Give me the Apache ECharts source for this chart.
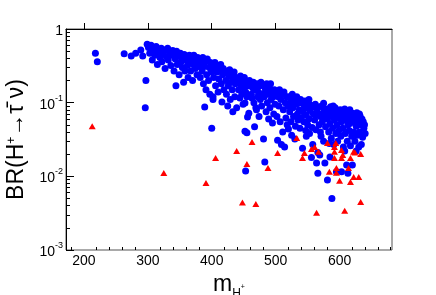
<!DOCTYPE html>
<html><head><meta charset="utf-8">
<script src="https://cdn.jsdelivr.net/npm/echarts@6/dist/echarts.min.js"></script>
<style>html,body{margin:0;padding:0;background:#fff}#c{width:436px;height:295px}</style>
</head><body><div id="c"></div>
<script>
// x tick labels and minor tick positions (GeV)
const xTickLabels = [200, 300, 400, 500, 600];
const xMinorTicks = [180, 220, 240, 260, 280, 320, 340, 360, 380, 420, 440, 460, 480, 520, 540, 560, 580, 620, 640, 660, 680];
// y decade ticks and minor ticks
const yTickLabels = ['10^-3', '10^-2', '10^-1', '1'];
const yMinorTicks = [0.002,0.003,0.004,0.005,0.006,0.007,0.008,0.009,0.02,0.03,0.04,0.05,0.06,0.07,0.08,0.09,0.2,0.3,0.4,0.5,0.6,0.7,0.8,0.9];

// blue points: [m_H+, BR]
const bluePoints = [
[218,0.47],[221,0.36],[263,0.46],[274,0.43],[281,0.47],[289,0.52],[292,0.43],[299,0.62],[297,0.2],[296,0.085],
[301,0.56],[303,0.47],[305,0.6],[307,0.38],[309,0.52],[311,0.44],[313,0.58],[315,0.33],[317,0.49],[319,0.41],
[321,0.55],[322,0.36],[324,0.47],[326,0.52],[327,0.29],[329,0.42],[331,0.55],[332,0.38],[334,0.48],[336,0.32],[337,0.44],[339,0.51],
[341,0.27],[342,0.46],[343,0.39],[345,0.5],[346,0.33],[348,0.43],[349,0.24],[351,0.47],[352,0.36],[354,0.3],[355,0.42],[357,0.45],[358,0.27],[359,0.38],[344,0.17],[356,0.19],
[361,0.41],[362,0.32],[363,0.22],[365,0.44],[366,0.36],[367,0.27],[369,0.4],[370,0.2],[371,0.33],[372,0.44],[374,0.29],[375,0.37],[377,0.24],[378,0.41],[379,0.31],
[381,0.38],[382,0.22],[383,0.34],[385,0.27],[386,0.41],[387,0.18],[388,0.31],[390,0.36],[391,0.15],[392,0.24],[393,0.39],[395,0.2],[396,0.3],[397,0.13],[398,0.35],[399,0.26],[389,0.087],
[401,0.33],[402,0.12],[403,0.22],[404,0.29],[405,0.35],[406,0.17],[408,0.26],[409,0.31],[410,0.14],[411,0.21],[413,0.28],[414,0.33],[415,0.18],[416,0.102],[417,0.24],[418,0.29],[419,0.15],[400,0.045],[402,0.11],
[421,0.27],[422,0.2],[423,0.13],[424,0.25],[425,0.09],[426,0.17],[427,0.23],[428,0.28],[429,0.11],[430,0.19],[431,0.24],[432,0.15],[433,0.075],[434,0.21],[435,0.26],[436,0.12],[437,0.18],[438,0.22],[439,0.085],
[441,0.21],[442,0.15],[443,0.19],[444,0.116],[445,0.23],[446,0.17],[447,0.13],[448,0.2],[449,0.095],[450,0.16],[451,0.22],[452,0.099],[453,0.14],[454,0.19],[455,0.12],[456,0.064],[457,0.17],[458,0.072],[459,0.2],[452,0.041],[455,0.039],[453,0.0118],
[461,0.18],[462,0.13],[463,0.116],[464,0.16],[465,0.19],[466,0.1],[467,0.047],[468,0.15],[469,0.085],[470,0.08],[471,0.18],[472,0.12],[473,0.14],[474,0.065],[475,0.17],[476,0.11],[477,0.19],[478,0.09],[479,0.13],
[481,0.032],[481,0.17],[482,0.12],[483,0.0157],[484,0.15],[485,0.075],[486,0.18],[487,0.1],[488,0.13],[489,0.06],[490,0.16],[491,0.085],[492,0.18],[493,0.11],[494,0.14],[495,0.053],[496,0.12],[497,0.07],[498,0.15],[499,0.095],
[501,0.14],[502,0.065],[503,0.031],[504,0.12],[505,0.09],[506,0.15],[507,0.055],[508,0.11],[509,0.027],[510,0.13],[511,0.04],[512,0.08],[513,0.14],[514,0.025],[515,0.1],[516,0.062],[517,0.12],[518,0.05],[519,0.09],[520,0.044],
[521,0.12],[522,0.075],[523,0.1],[524,0.055],[525,0.036],[526,0.13],[527,0.085],[528,0.065],[529,0.11],[530,0.032],[531,0.048],[532,0.095],[533,0.12],[534,0.07],[535,0.058],[536,0.1],[537,0.08],[538,0.045],[539,0.11],[540,0.062],
[541,0.1],[542,0.024],[543,0.075],[544,0.055],[545,0.09],[546,0.105],[547,0.042],[548,0.068],[549,0.085],[550,0.05],[551,0.1],[552,0.06],[553,0.038],[554,0.078],[555,0.092],[556,0.018],[557,0.046],[558,0.027],[559,0.07],[560,0.088],[548,0.035],[552,0.11],
[561,0.058],[562,0.095],[563,0.043],[564,0.0152],[565,0.075],[566,0.021],[566,0.011],[567,0.087],[568,0.05],[569,0.0195],[570,0.065],[571,0.035],[572,0.09],[573,0.055],[574,0.072],[575,0.03],[576,0.083],[577,0.0152],[578,0.047],[579,0.062],[580,0.077],[570,0.04],[575,0.098],[563,0.068],
[581,0.0089],[581,0.06],[582,0.082],[583,0.04],[584,0.07],[585,0.0183],[585,0.052],[586,0.088],[587,0.033],[588,0.005],[588,0.065],[589,0.045],[590,0.078],[591,0.027],[592,0.058],[593,0.085],[594,0.038],[595,0.0115],[595,0.068],[596,0.05],[597,0.03],[598,0.075],[599,0.042],[600,0.062],[590,0.09],[584,0.028],
[601,0.08],[602,0.035],[603,0.0115],[603,0.055],[604,0.072],[605,0.045],[606,0.025],[607,0.066],[608,0.082],[609,0.038],[610,0.058],[611,0.0143],[611,0.075],[612,0.03],[613,0.011],[613,0.05],[614,0.068],[615,0.042],[616,0.08],[617,0.026],[618,0.06],[619,0.035],[620,0.0143],[620,0.072],[608,0.022],[616,0.052],
[621,0.055],[622,0.04],[623,0.068],[624,0.03],[625,0.062],[626,0.048],[627,0.073],[628,0.036],[629,0.058],[630,0.025],[631,0.04],[632,0.066],[633,0.05],[634,0.027],[635,0.06],[636,0.034],[637,0.055],[638,0.045],[639,0.05],[640,0.038],[626,0.022],[631,0.07]
];

// red points: [m_H+, BR]
const redPoints = [
[213,0.048],[325,0.0111],[391,0.0081],[406,0.0177],[439,0.0221],[463,0.0293],[455,0.0147],[488,0.013],[503,0.0208],[448,0.0044],[469,0.0042],
[533,0.0332],[545,0.0208],[542,0.0178],[556,0.0235],[567,0.0215],[561,0.025],[581,0.0284],[594,0.0284],[592,0.0215],[592,0.025],[603,0.0228],[605,0.0195],
[592,0.0178],[603,0.0178],[622,0.0215],[624,0.021],[633,0.0201],[617,0.0178],[614,0.013],[595,0.013],[584,0.0115],[595,0.0112],[600,0.0087],[617,0.0084],
[622,0.0098],[630,0.0098],[633,0.0045],[608,0.0034],[564,0.0032]
];

const FONT = 'Liberation Sans';
const chart = echarts.init(document.getElementById('c'), null, {renderer: 'canvas'});
chart.setOption({
  animation: false,
  backgroundColor: '#fff',
  grid: {left: 66, right: 44, top: 29, bottom: 45, containLabel: false, outerBoundsMode: 'none', show: true, borderColor: '#555', borderWidth: 1, backgroundColor: 'transparent'},
  xAxis: [{
    type: 'value', min: 172, max: 682, position: 'bottom',
    axisLine: {show: true, lineStyle: {color: '#000', width: 1}},
    axisTick: {show: true, inside: true, length: 6, customValues: xTickLabels, lineStyle: {color: '#000'}},
    axisLabel: {show: true, customValues: xTickLabels, fontSize: 14, color: '#000', fontFamily: FONT, margin: 4},
    splitLine: {show: false},
    name: '{m|m}{s|H}{p|+}',
    nameLocation: 'middle', nameGap: 14,
    nameTextStyle: {rich: {
      m: {fontSize: 23, fontFamily: FONT, color: '#000', verticalAlign: 'bottom', padding: [0, 0, 4, 0]},
      s: {fontSize: 12, fontFamily: FONT, color: '#000', verticalAlign: 'bottom'},
      p: {fontSize: 7, fontFamily: FONT, color: '#000', verticalAlign: 'bottom', padding: [0, 0, 9, 0]}
    }}
  }, {
    type: 'value', min: 172, max: 682, position: 'bottom',
    axisLine: {show: false},
    axisTick: {show: true, inside: true, length: 3, customValues: xMinorTicks, lineStyle: {color: '#000'}},
    axisLabel: {show: false},
    splitLine: {show: false}
  }],
  yAxis: [{
    type: 'log', min: 0.001, max: 1, logBase: 10, position: 'left',
    axisLine: {show: true, lineStyle: {color: '#000', width: 1}},
    axisTick: {show: true, inside: true, length: 8, lineStyle: {color: '#000'}},
    axisLabel: {
      show: true, margin: 3, color: '#000',
      formatter: function (v) {
        const e = Math.round(Math.log10(v));
        const lab = yTickLabels[e + 3];
        if (lab === '1') return '{b|1}';
        const parts = lab.split('^');
        return '{b|' + parts[0] + '}{s|' + parts[1] + '}';
      },
      rich: {
        b: {fontSize: 14, fontFamily: FONT, color: '#000', verticalAlign: 'bottom', lineHeight: 18},
        s: {fontSize: 9, fontFamily: FONT, color: '#000', verticalAlign: 'top'}
      }
    },
    splitLine: {show: false},
    name: '{a|BR(H}{p|+}{a|→τ̄ ν)}',
    nameLocation: 'middle', nameRotate: 90, nameGap: 31,
    nameTextStyle: {rich: {
      a: {fontSize: 23, fontFamily: FONT, color: '#000', verticalAlign: 'bottom'},
      p: {fontSize: 12, fontFamily: FONT, color: '#000', verticalAlign: 'top'}
    }}
  }, {
    type: 'value', min: -3, max: 0, position: 'left',
    axisLine: {show: false},
    axisTick: {show: true, inside: true, length: 4, customValues: yMinorTicks.map(v => Math.log10(v)), lineStyle: {color: '#000'}},
    axisLabel: {show: false},
    splitLine: {show: false}
  }],
  series: [{
    type: 'scatter', xAxisIndex: 0, yAxisIndex: 0,
    symbol: 'circle', symbolSize: 7,
    itemStyle: {color: '#0000ff', opacity: 1},
    data: bluePoints, z: 2
  }, {
    type: 'scatter', xAxisIndex: 0, yAxisIndex: 0,
    symbol: 'triangle', symbolSize: [7, 6],
    itemStyle: {color: '#ff0000', opacity: 1},
    data: redPoints, z: 3
  }]
});
</script>
</body></html>
